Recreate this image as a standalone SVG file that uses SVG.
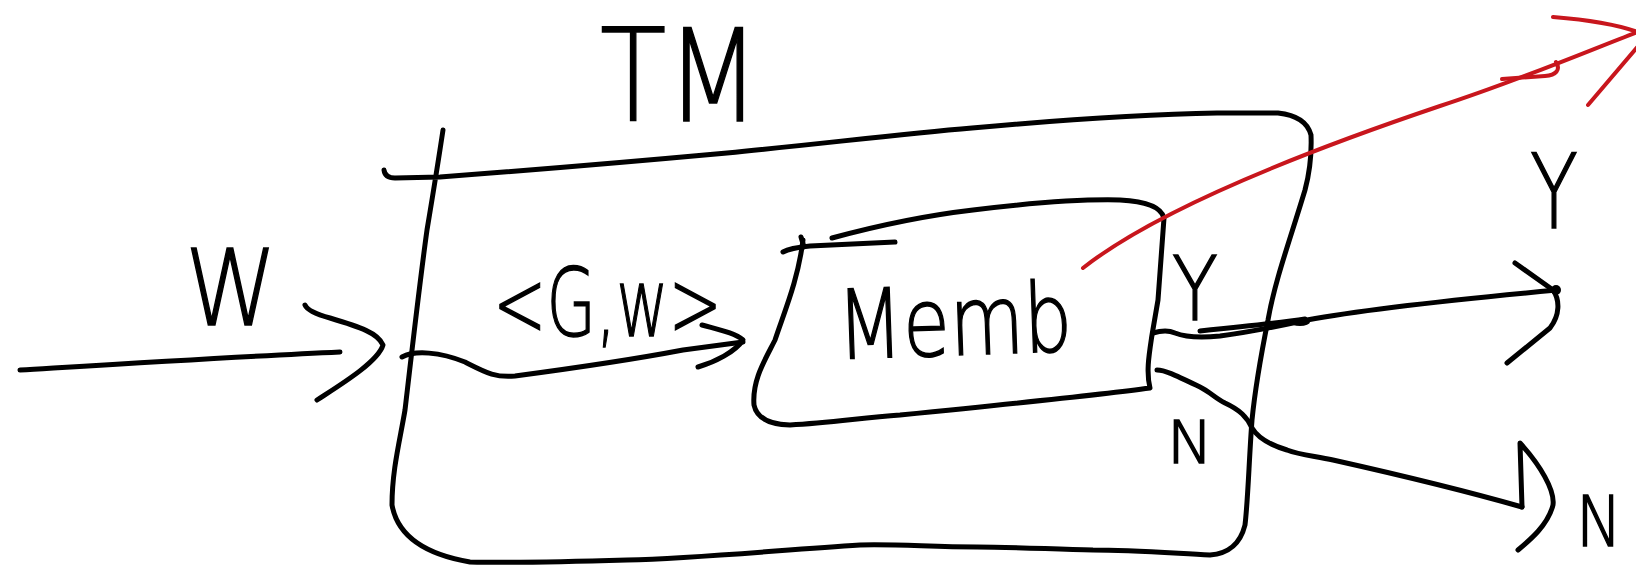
<svg xmlns="http://www.w3.org/2000/svg" width="1636" height="565" viewBox="0 0 1636 565">
  <style>
    .ink { fill: none; stroke: #000; stroke-width: 5; stroke-linecap: round; stroke-linejoin: round; }
    .red { fill: none; stroke: #c8161d; stroke-width: 4; stroke-linecap: round; stroke-linejoin: round; }
    .hand { font-family: "DejaVu Sans", "Liberation Sans", sans-serif; font-weight: 200; fill: #000; stroke: #000; stroke-width: 1.5; }
  </style>
  <rect width="1636" height="565" fill="#fff"/>

  <!-- Turing machine outer box -->
  <g id="node-tm">
    <path class="ink" d="M384,170 Q385,178 395,178 L440,177 C560,168 650,160 727,153 C820,144 900,134 972,128 C1060,120 1150,114 1217,113 L1278,113 Q1306,116 1311,135 C1312,160 1309,175 1305,190 C1290,240 1275,280 1268,320 C1260,360 1255,390 1252,420 C1249,460 1248,500 1245,525 Q1238,553 1210,555 C1170,553 1130,550 1093,550 C1050,549 1010,547 977,547 C930,547 900,544 860,545 C780,550 700,558 627,560 C560,562 510,563 470,562 Q400,550 392,505 C392,470 400,440 405,410 C412,350 420,280 427,230 C432,200 437,170 443,130"/>
    <text class="hand" x="600" y="121" font-size="128" textLength="160" lengthAdjust="spacingAndGlyphs">TM</text>
  </g>

  <!-- Membership decider inner box -->
  <g id="node-memb">
    <path class="ink" d="M832,238 C880,225 930,215 973,210 C1030,203 1080,199 1120,200 Q1160,202 1164,218 L1158,300 L1152,335 C1149,355 1146,372 1150,388 C1100,395 1000,405 900,415 C860,418 830,423 790,425 Q758,424 754,405 C752,380 765,360 775,340 C785,310 798,280 803,240"/>
    <path class="ink" d="M783,252 C790,248 800,247 810,246 L895,242 M801,237 L804,247"/>
    <text class="hand" x="838" y="355" font-size="96" textLength="235" lengthAdjust="spacingAndGlyphs" transform="rotate(-2 955 350)">Memb</text>
  </g>

  <g id="connectors">
    <!-- input w -->
    <path class="ink" d="M20,370 C120,364 250,356 340,352"/>
    <path class="ink" d="M305,305 Q308,312 330,318 C360,327 378,333 383,345 C378,362 340,385 317,400"/>
    <!-- <G,w> into Memb -->
    <path class="ink" d="M402,357 C415,350 440,352 465,362 C485,372 495,378 515,376 C560,370 620,362 683,350 L743,342"/>
    <path class="ink" d="M702,325 C720,330 735,333 743,340 C735,352 715,362 698,367"/>
    <!-- Y output -->
    <path class="ink" d="M1153,333 C1160,331 1168,330 1175,333 C1185,337 1200,338 1220,336 C1250,332 1270,328 1307,320 C1360,310 1450,300 1557,290"/>
    <path class="ink" d="M1200,331 C1240,327 1280,323 1305,319" stroke-width="4"/>
    <ellipse cx="1300" cy="322" rx="10" ry="4" fill="#000"/>
    <path class="ink" d="M1515,263 L1553,290 C1560,300 1560,315 1550,328 L1507,363"/>
    <circle cx="1556" cy="290" r="5" fill="#000"/>
    <!-- N output -->
    <path class="ink" d="M1157,370 C1165,370 1175,375 1200,387 C1210,392 1215,398 1225,403 C1240,410 1247,417 1252,428 C1258,438 1270,445 1287,450 C1300,455 1315,456 1333,460 C1400,475 1480,495 1522,507"/>
    <path class="ink" d="M1522,507 L1520,443 C1540,465 1555,490 1553,505 C1548,525 1530,540 1518,550"/>
    <!-- red arrow out of the box -->
    <path class="red" d="M1083,268 C1150,215 1280,160 1440,106 C1520,80 1590,50 1640,31"/>
    <path class="red" d="M1556,62 C1561,70 1556,75 1545,76 L1502,79"/>
    <path class="red" d="M1553,17 C1590,20 1620,25 1640,33 M1588,105 L1640,44"/>
  </g>

  <g id="labels">
    <text class="hand" x="185" y="325" font-size="106" textLength="92" lengthAdjust="spacingAndGlyphs">W</text>
    <text class="hand" x="493" y="336" font-size="95" textLength="229" lengthAdjust="spacingAndGlyphs">&lt;G,w&gt;</text>
    <text class="hand" x="1172" y="320" font-size="89" textLength="46" lengthAdjust="spacingAndGlyphs">Y</text>
    <text class="hand" x="1167" y="463" font-size="59" textLength="46" lengthAdjust="spacingAndGlyphs">N</text>
    <text class="hand" x="1530" y="228" font-size="104" textLength="48" lengthAdjust="spacingAndGlyphs">Y</text>
    <text class="hand" x="1576" y="546" font-size="70" textLength="46" lengthAdjust="spacingAndGlyphs">N</text>
  </g>
</svg>
